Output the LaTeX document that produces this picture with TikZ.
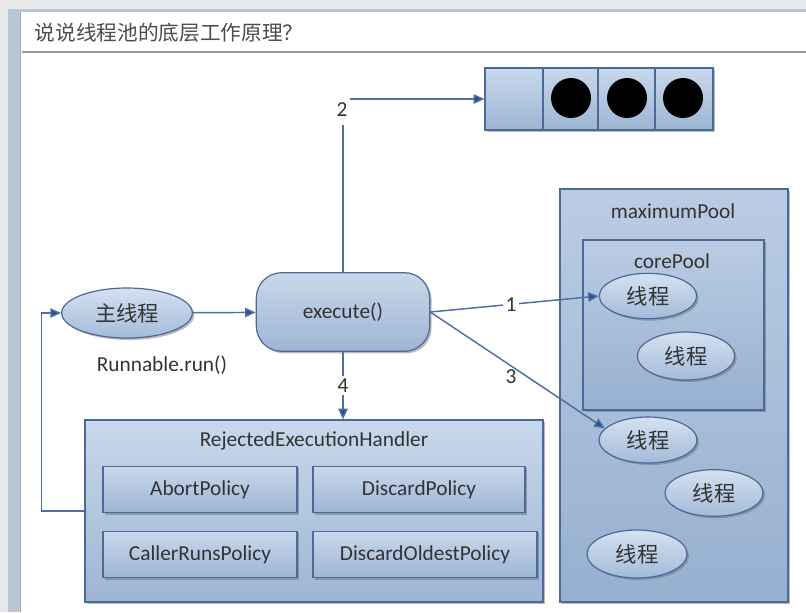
\documentclass[tikz,border=0pt]{standalone}
\usepackage{fontspec}
\setmainfont{Carlito}
\newfontfamily\cjk{Noto Sans CJK SC}
\usetikzlibrary{arrows.meta,shapes.geometric,shadows}
\definecolor{bord}{HTML}{4A6A9A}
\definecolor{linec}{HTML}{4C6FA5}
\definecolor{tipc}{HTML}{2A4F8F}
\definecolor{txt}{HTML}{333333}
\definecolor{boxtop}{HTML}{C9D8EB}
\definecolor{boxbot}{HTML}{9DB5D4}
\definecolor{pooltop}{HTML}{BACCE3}
\definecolor{poolbot}{HTML}{97B0D0}
\definecolor{elltop}{HTML}{D5E1F0}
\definecolor{ellbot}{HTML}{A3BBD9}
\definecolor{frameblue}{HTML}{B9C6D3}
\tikzset{
  shad/.style={drop shadow={shadow xshift=1.5pt,shadow yshift=-1.5pt,opacity=0.45,fill=black!60}},
  boxed/.style={draw=bord,line width=0.9pt,top color=boxtop,bottom color=boxbot,shad,inner sep=0pt,text=txt,font=\fontsize{16}{18}\selectfont},
  poolbox/.style={draw=bord,line width=0.9pt,top color=pooltop,bottom color=poolbot,shad,inner sep=0pt},
  thread/.style={ellipse,draw=bord,line width=0.9pt,top color=elltop,bottom color=ellbot,shad,inner sep=0pt,text=txt,font=\cjk\fontsize{16}{18}\selectfont},
  lbl/.style={text=txt,font=\fontsize{16}{18}\selectfont},
  num/.style={text=txt,font=\fontsize{16}{18}\selectfont,fill=white,inner sep=2pt},
  arr/.style={draw=linec,line width=1.1pt,-{Triangle[length=8pt,width=7pt,fill=tipc]}},
}
\begin{document}
\begin{tikzpicture}[x=0.75pt,y=-0.75pt]
\useasboundingbox (0,0) rectangle (806,612);
% background frame
\fill[black!9] (0,0) rectangle (806,612);
\fill[frameblue] (8,9) rectangle (806,612);
\fill[white] (20,12) rectangle (806,612);
\draw[black!35,line width=0.6pt] (20,12) -- (20,612);
\node[anchor=west,text=black!70,font=\cjk\fontsize{15.5}{17}\selectfont] (title) at (30,33) {说说线程池的底层工作原理？};
\draw[black!40,line width=0.9pt] (22,52) -- (806,52);

% queue
\node[boxed,minimum width=171pt,minimum height=46.5pt] (queue) at (599,99) {};
\draw[bord,line width=0.9pt] (543,68) -- (543,130) (598,68) -- (598,130) (655,68) -- (655,130);
\fill[black] (571,98) circle (15pt);
\fill[black] (627,98) circle (15pt);
\fill[black] (683,98) circle (15pt);

% main thread and execute
\node[thread,minimum width=98pt,minimum height=37.5pt] (main) at (127,313) {主线程};
\node[lbl] (runlbl) at (162,365) {Runnable.run()};
\node[boxed,rounded corners=19pt,minimum width=130pt,minimum height=59pt] (exec) at (343,312) {execute()};

% handler
\node[boxed,minimum width=343.5pt,minimum height=136.5pt] (handler) at (314,511) {};
\node[lbl] (hlbl) at (314,441) {RejectedExecutionHandler};
\node[boxed,minimum width=145.5pt,minimum height=35pt] (abort) at (200,489.5) {AbortPolicy};
\node[boxed,minimum width=159pt,minimum height=35pt] (discard) at (419,489.5) {DiscardPolicy};
\node[boxed,minimum width=145.5pt,minimum height=35pt] (caller) at (200,554.5) {CallerRunsPolicy};
\node[boxed,minimum width=168pt,minimum height=35pt] (oldest) at (425,554.5) {DiscardOldestPolicy};

% pools
\node[poolbox,minimum width=171pt,minimum height=309.75pt] (maxpool) at (674,395.5) {};
\node[lbl] (maxlbl) at (673,211) {maximumPool};
\node[poolbox,minimum width=135.75pt,minimum height=127.5pt] (corepool) at (673.5,325) {};
\node[lbl] (corelbl) at (672,261) {corePool};
\node[thread,minimum width=73pt,minimum height=34pt] (t1) at (648,296) {线程};
\node[thread,minimum width=73pt,minimum height=36pt] (t2) at (686,356) {线程};
\node[thread,minimum width=73.5pt,minimum height=34.5pt] (t3) at (648,440) {线程};
\node[thread,minimum width=73.5pt,minimum height=35pt] (t4) at (714,493) {线程};
\node[thread,minimum width=75pt,minimum height=36pt] (t5) at (637,554) {线程};

% connectors
\draw[arr] (main) -- (exec);
\draw[arr] (exec.north) |- (queue.west);
\node[num,minimum height=22pt] (n2) at (342,110) {2};
\draw[arr] (exec.east) -- node[num,pos=0.48] (n1) {1} (t1.west);
\draw[arr] (exec.east) -- (t3.165);
\node[lbl] (n3) at (511,377) {3};
\draw[arr] (exec.south) -- node[num] (n4) {4} (exec.south |- handler.north);
\draw[arr] (handler.west) -- ++(-43,0) |- (main.west);
\end{tikzpicture}
\end{document}
